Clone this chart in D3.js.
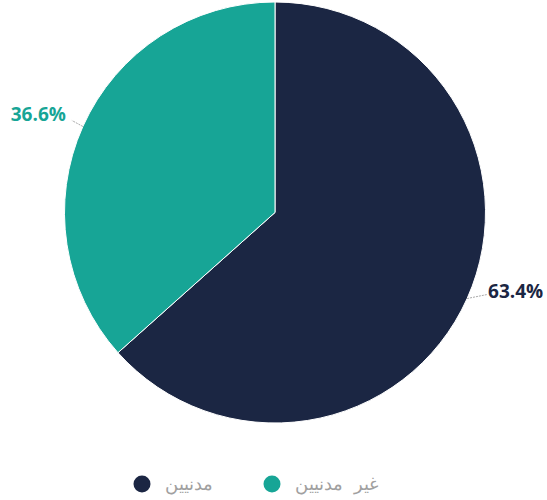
<!DOCTYPE html>
<html><head><meta charset="utf-8">
<script src="https://cdn.jsdelivr.net/npm/d3@7"></script>
<style>body{margin:0;background:#fff}svg{display:block}</style>
</head><body>
<svg id="c" width="547" height="500"></svg>
<script>
const categories = ["مدنيين", "غير مدنيين"];
const values = [63.4, 36.6];
const labels = ["63.4%", "36.6%"];
const colors = ["#1b2643", "#17a596"];

const svg = d3.select("#c");
const cx = 275, cy = 212.5, R = 210.5;
const g = svg.append("g").attr("transform", `translate(${cx},${cy})`);

const pie = d3.pie().sort(null).value(d => d)(values);
const arc = d3.arc().innerRadius(0).outerRadius(R);
g.selectAll("path.s").data(pie).join("path")
  .attr("class","s")
  .attr("d", arc)
  .attr("fill", (d,i) => colors[i])
  .attr("stroke", "#fff").attr("stroke-width", 1);

const edge = d3.arc().innerRadius(R).outerRadius(R);
pie.forEach((d, i) => {
  const [x1, y1] = edge.centroid(d);
  const right = x1 > 0;
  const x2 = x1 + (right ? 20 : -11);
  const y2 = y1 + (right ? -4 : -6);
  g.append("polyline")
    .attr("points", [[x1,y1],[x2,y2]].map(p => p.join(",")).join(" "))
    .attr("fill", "none").attr("stroke", "#aaa").attr("stroke-width", 1)
    .attr("stroke-dasharray", "2,1");
  g.append("text")
    .attr("x", x2 + (right ? 1 : -6))
    .attr("y", y1 + (right ? -7.5 : -12.5))
    .attr("dy", "0.35em")
    .attr("text-anchor", right ? "start" : "end")
    .attr("font-family", "'Open Sans', sans-serif")
    .attr("font-weight", 700)
    .attr("font-size", 19)
    .attr("fill", colors[i])
    .text(labels[i]);
});

// legend
const lx = d3.scalePoint().domain(categories).range([142, 272]);
const lg = svg.append("g");
categories.forEach((c, i) => {
  lg.append("circle").attr("cx", lx(c)).attr("cy", 484).attr("r", 8.5).attr("fill", colors[i]);
  lg.append("text").attr("x", lx(c) + 23).attr("y", 484).attr("dy", "0.35em")
    .attr("font-family", "'DejaVu Sans', sans-serif").attr("font-weight", 300)
    .attr("font-size", 18).attr("fill", "#a0a0a0")
    .attr("word-spacing", 5)
    .attr("text-anchor", "start")
    .text(c);
});
</script>
</body></html>
